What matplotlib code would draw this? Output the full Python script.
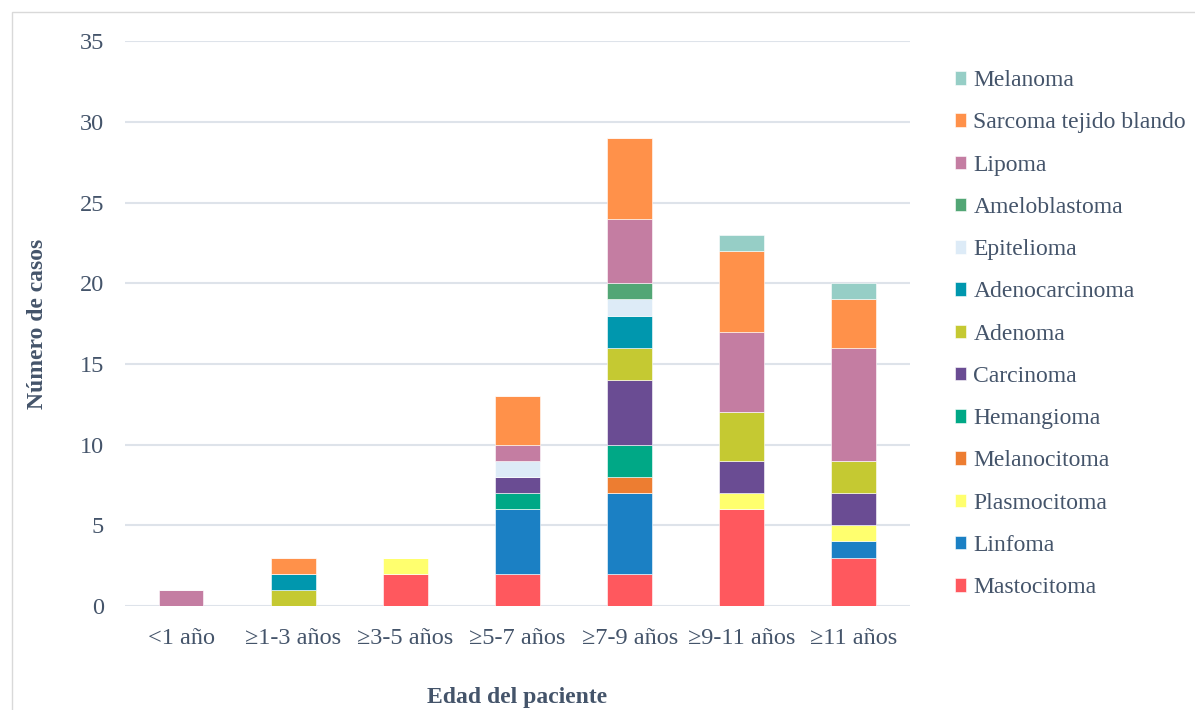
import numpy as np
import matplotlib.pyplot as plt
from matplotlib.patches import Rectangle

plt.rcParams['font.family'] = ['Liberation Serif', 'DejaVu Serif']

# age groups on the x axis
ages = ['<1 año', '≥1-3 años', '≥3-5 años', '≥5-7 años', '≥7-9 años', '≥9-11 años', '≥11 años']

# cases per tumour type, stacked bottom -> top
mastocitoma    = [0, 0, 2, 2, 2, 6, 3]
linfoma        = [0, 0, 0, 4, 5, 0, 1]
plasmocitoma   = [0, 0, 1, 0, 0, 1, 1]
melanocitoma   = [0, 0, 0, 0, 1, 0, 0]
hemangioma     = [0, 0, 0, 1, 2, 0, 0]
carcinoma      = [0, 0, 0, 1, 4, 2, 2]
adenoma        = [0, 1, 0, 0, 2, 3, 2]
adenocarcinoma = [0, 1, 0, 0, 2, 0, 0]
epitelioma     = [0, 0, 0, 1, 1, 0, 0]
ameloblastoma  = [0, 0, 0, 0, 1, 0, 0]
lipoma         = [1, 0, 0, 1, 4, 5, 7]
sarcoma        = [0, 1, 0, 3, 5, 5, 3]
melanoma       = [0, 0, 0, 0, 0, 1, 1]

series = [
    ('Mastocitoma', mastocitoma, '#FF585E'),
    ('Linfoma', linfoma, '#1B80C4'),
    ('Plasmocitoma', plasmocitoma, '#FFFF6E'),
    ('Melanocitoma', melanocitoma, '#ED7D31'),
    ('Hemangioma', hemangioma, '#00A886'),
    ('Carcinoma', carcinoma, '#6A4C93'),
    ('Adenoma', adenoma, '#C5C932'),
    ('Adenocarcinoma', adenocarcinoma, '#0097AE'),
    ('Epitelioma', epitelioma, '#DDEBF7'),
    ('Ameloblastoma', ameloblastoma, '#52A675'),
    ('Lipoma', lipoma, '#C47DA2'),
    ('Sarcoma tejido blando', sarcoma, '#FF914A'),
    ('Melanoma', melanoma, '#96CEC6'),
]

text_col = '#44546A'
grid_col = '#DEE3EA'

fig = plt.figure(figsize=(11.95, 7.10), dpi=100)
fig.patches.append(Rectangle((0.01, -0.01), 0.995, 0.993, transform=fig.transFigure,
                             fill=False, edgecolor='#D9D9D9', linewidth=1.0))
ax = fig.add_axes([0.1046, 0.1465, 0.6569, 0.7955])

x = np.arange(len(ages))
bottom = np.zeros(len(ages))
handles = []
for name, vals, col in series:
    vals = np.array(vals, dtype=float)
    b = ax.bar(x, vals, width=0.40, bottom=bottom, color=col, label=name,
               edgecolor='white', linewidth=0.4, zorder=3)
    handles.append(b)
    bottom += vals

ax.set_xlim(-0.5, len(ages) - 0.5)
ax.set_ylim(0, 35)
ax.set_yticks(range(0, 36, 5))
ax.set_xticks(x)
ax.set_xticklabels(ages)
ax.yaxis.grid(True, color=grid_col, linewidth=1.5, zorder=0)
ax.set_axisbelow(True)
for s in ax.spines.values():
    s.set_visible(False)
ax.tick_params(axis='both', length=0, labelsize=17.5, colors=text_col)
ax.tick_params(axis='x', pad=16)
ax.tick_params(axis='y', pad=15)
ax.set_ylabel('Número de casos', fontsize=17, fontweight='bold', color=text_col, labelpad=23)
ax.set_xlabel('Edad del paciente', fontsize=17, fontweight='bold', color=text_col, labelpad=27)

leg = fig.legend(handles[::-1], [s[0] for s in series][::-1],
                 loc='upper left', bbox_to_anchor=(0.781, 0.931), frameon=False,
                 fontsize=17, handlelength=0.5, handleheight=0.5,
                 handletextpad=0.3, labelspacing=0.9, labelcolor=text_col)

fig.savefig('out.png', dpi=100)
